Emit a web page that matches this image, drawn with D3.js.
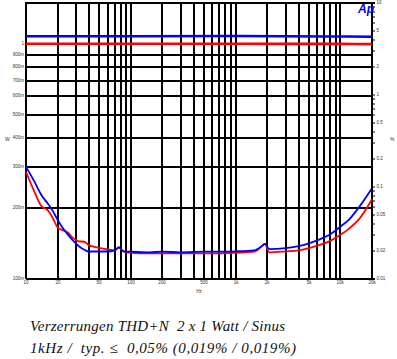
<!DOCTYPE html>
<html>
<head>
<meta charset="utf-8">
<script src="https://cdn.jsdelivr.net/npm/d3@7"></script>
<style>
  html, body { margin: 0; padding: 0; background: #fff; }
  svg { display: block; }
  .tick text { font-family: "Liberation Sans", Arial, sans-serif; }
</style>
</head>
<body>
<svg id="chart" width="397" height="359"></svg>
<script>
// ---- data ----
const freqs = [10, 12, 14, 16, 18, 20, 22, 25, 28, 32, 36, 40, 45, 50, 60, 70, 77, 85, 100, 150, 200, 300, 500, 700, 1000, 1500, 1800, 1900, 2100, 3000, 4000, 5000, 6000, 8000, 10000, 12000, 15000, 20000];
const thdBlue = [0.166, 0.115, 0.082, 0.067, 0.055, 0.044, 0.037, 0.0306, 0.0263, 0.0227, 0.0208, 0.0199, 0.0199, 0.0199, 0.0199, 0.0205, 0.0222, 0.0200, 0.0198, 0.0195, 0.0198, 0.0195, 0.0198, 0.0198, 0.0200, 0.0205, 0.0230, 0.0241, 0.0211, 0.0216, 0.0227, 0.0244, 0.0263, 0.0306, 0.0371, 0.0439, 0.0600, 0.0968];
const thdRed = [0.1465, 0.0894, 0.0622, 0.0563, 0.0461, 0.0364, 0.0342, 0.0321, 0.0280, 0.0257, 0.0254, 0.0232, 0.0224, 0.0218, 0.0210, 0.0205, 0.0218, 0.0200, 0.0193, 0.0190, 0.0190, 0.0190, 0.0190, 0.0190, 0.0193, 0.0198, 0.0230, 0.0241, 0.0195, 0.0200, 0.0205, 0.0216, 0.0230, 0.0260, 0.0302, 0.0351, 0.0444, 0.0736];
const levelFreqs = [10, 100, 1000, 10000, 20000];
const levelBlue = [1.082, 1.083, 1.084, 1.080, 1.076];
const levelRed = [1.005, 1.005, 1.005, 1.004, 1.002];

const xGridValues = [10,20,30,40,50,60,70,80,90,100,200,300,400,500,600,700,800,900,1000,2000,3000,4000,5000,6000,7000,8000,9000,10000,20000];
const xLabels = {10:"10",20:"20",50:"50",100:"100",200:"200",500:"500",1000:"1k",2000:"2k",5000:"5k",10000:"10k",20000:"20k"};
const wGridValues = [0.1,0.2,0.3,0.4,0.5,0.6,0.7,0.8,0.9,1];
const wLabels = {0.1:"100m",0.2:"200m",0.3:"300m",0.4:"400m",0.5:"500m",0.6:"600m",0.7:"700m",0.8:"800m",0.9:"900m",1:"1"};
const pctTickValues = [0.01,0.02,0.03,0.04,0.05,0.06,0.07,0.08,0.09,0.1,0.2,0.3,0.4,0.5,0.6,0.7,0.8,0.9,1,2,3,4,5,6,7,8,9,10];
const pctLabels = {0.01:"0.01",0.02:"0.02",0.05:"0.05",0.1:"0.1",0.2:"0.2",0.5:"0.5",1:"1",2:"2",5:"5",10:"10"};
const captionLines = ["Verzerrungen THD+N  2 x 1 Watt / Sinus", "1kHz /  typ. \u2264  0,05% (0,019% / 0,019%)"];

// ---- layout ----
const L = 26, R = 372, T = 3, B = 279;
const svg = d3.select("#chart");

const x = d3.scaleLog().domain([10, 20000]).range([L, R]);
const yPct = d3.scaleLog().domain([0.01, 10]).range([B, T]);
const yW = d3.scaleLog().domain([0.1, 1.5]).range([B, T]);
// rounded copies for crisp grid lines
const xGrid = x.copy().interpolate(d3.interpolateRound);
const yWGrid = yW.copy().interpolate(d3.interpolateRound);
const yPctGrid = yPct.copy().interpolate(d3.interpolateRound);

const keyOf = v => +v.toPrecision(3);

// vertical grid + x labels
const gx = svg.append("g").attr("transform", `translate(0,${B})`)
  .call(d3.axisBottom(xGrid).offset(0).tickValues(xGridValues).tickSize(-(B - T)).tickPadding(2)
    .tickFormat(d => xLabels[keyOf(d)] || ""));
gx.select(".domain").remove();
gx.selectAll(".tick line").attr("stroke", "#000").attr("stroke-width", 2);
gx.selectAll(".tick text").attr("font-size", 4.5).attr("fill", "#333");

// horizontal grid + left labels
const gy = svg.append("g").attr("transform", `translate(${L},0)`)
  .call(d3.axisLeft(yWGrid).offset(0).tickValues(wGridValues).tickSize(-(R - L)).tickPadding(2)
    .tickFormat(d => wLabels[keyOf(d)] || ""));
gy.select(".domain").remove();
gy.selectAll(".tick line").attr("stroke", "#000").attr("stroke-width", 2);
gy.selectAll(".tick text").attr("font-size", 4.5).attr("fill", "#333");

// top border
svg.append("line").attr("x1", L - 1).attr("x2", R + 1).attr("y1", T).attr("y2", T)
  .attr("stroke", "#000").attr("stroke-width", 2);

// right axis (%)
const gr = svg.append("g").attr("transform", `translate(${R},0)`)
  .call(d3.axisRight(yPctGrid).offset(0).tickValues(pctTickValues).tickSize(3).tickPadding(1.5)
    .tickFormat(d => pctLabels[keyOf(d)] || ""));
gr.select(".domain").attr("stroke", "#000").attr("stroke-width", 2);
gr.selectAll(".tick line").attr("stroke", "#000").attr("stroke-width", 1);
gr.selectAll(".tick text").attr("font-size", 4.5).attr("fill", "#333");

// units
svg.append("text").attr("x", 5).attr("y", 141).attr("font-size", 5)
  .attr("font-family", "Liberation Sans, Arial, sans-serif").attr("fill", "#333").text("W");
svg.append("text").attr("x", 390).attr("y", 141).attr("font-size", 5)
  .attr("font-family", "Liberation Sans, Arial, sans-serif").attr("fill", "#333").text("%");
svg.append("text").attr("x", 199).attr("y", 293).attr("font-size", 4.5).attr("text-anchor", "middle")
  .attr("font-family", "Liberation Sans, Arial, sans-serif").attr("fill", "#333").text("Hz");

// curves
const linePct = d3.line().x((d, i) => x(freqs[i])).y(d => yPct(d)).curve(d3.curveMonotoneX);
const lineW = d3.line().x((d, i) => x(levelFreqs[i])).y(d => yW(d)).curve(d3.curveMonotoneX);

svg.append("path").datum(thdRed).attr("d", linePct).attr("fill", "none")
  .attr("stroke", "#ff0000").attr("stroke-width", 1.8);
svg.append("path").datum(thdBlue).attr("d", linePct).attr("fill", "none")
  .attr("stroke", "#0000ff").attr("stroke-width", 1.8);
svg.append("path").datum(levelBlue).attr("d", lineW).attr("fill", "none")
  .attr("stroke", "#0000ff").attr("stroke-width", 2.5);
svg.append("path").datum(levelRed).attr("d", lineW).attr("fill", "none")
  .attr("stroke", "#ff0000").attr("stroke-width", 2.6);

// Ap logo
svg.append("text").attr("x", 366).attr("y", 13).attr("text-anchor", "middle")
  .attr("font-family", "Liberation Sans, Arial, sans-serif").attr("font-weight", "bold")
  .attr("font-style", "italic").attr("font-size", 12).attr("fill", "#0000ff").text("Ap");

// caption
const captionWidths = [255, 266];
svg.selectAll("text.caption").data(captionLines).enter().append("text")
  .attr("class", "caption")
  .attr("x", 30).attr("y", (d, i) => 331 + i * 22)
  .attr("font-family", "Liberation Serif, Times New Roman, serif")
  .attr("font-style", "italic").attr("font-size", 15).attr("fill", "#111")
  .attr("textLength", (d, i) => captionWidths[i]).attr("lengthAdjust", "spacing")
  .style("white-space", "pre")
  .text(d => d);
</script>
</body>
</html>
